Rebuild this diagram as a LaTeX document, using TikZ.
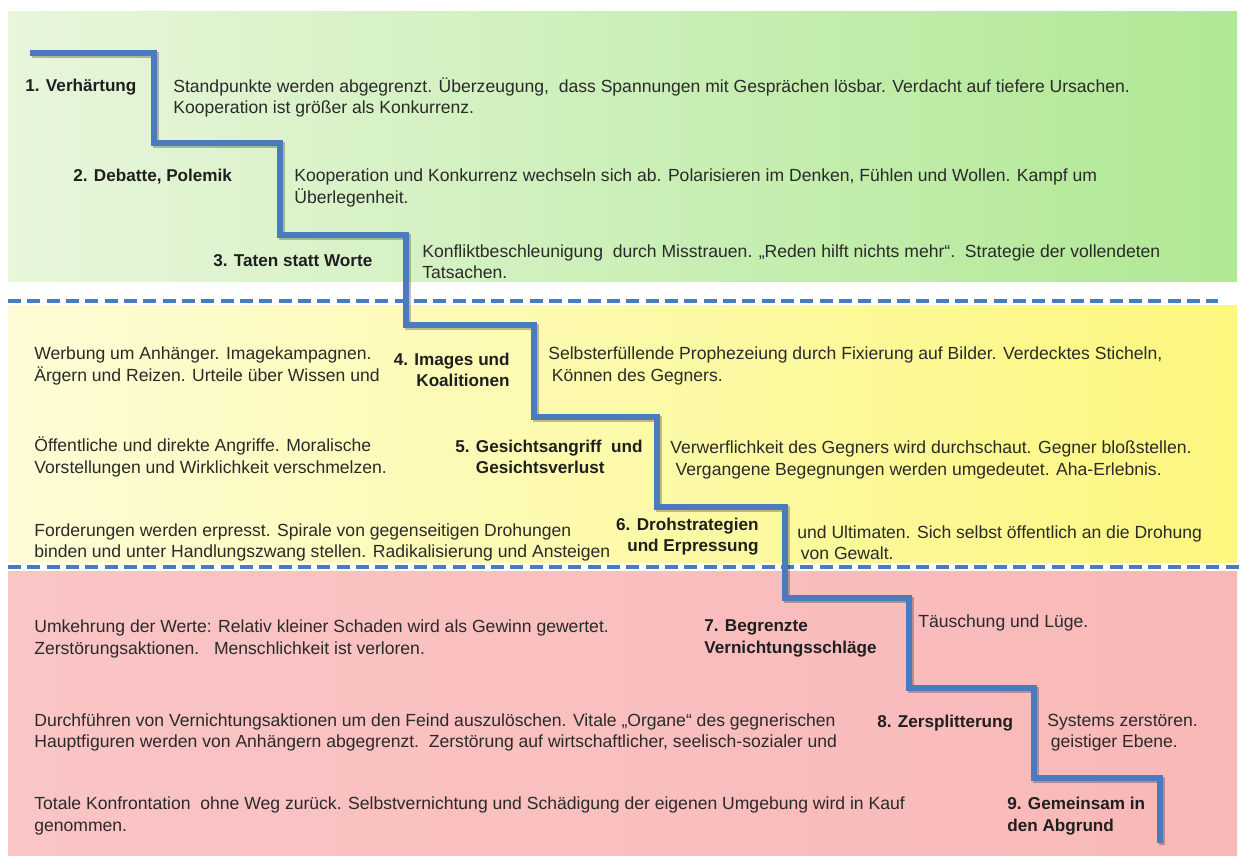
\documentclass[tikz,border=0pt]{standalone}
\usepackage{fontspec}
\setmainfont{Liberation Sans}

\definecolor{grnL}{RGB}{232,246,220}
\definecolor{grnR}{RGB}{176,232,148}
\definecolor{ylwL}{RGB}{253,252,214}
\definecolor{ylwR}{RGB}{252,247,126}
\definecolor{redL}{RGB}{250,197,197}
\definecolor{redM}{RGB}{251,206,206}
\definecolor{redR}{RGB}{249,184,184}
\definecolor{stairblue}{RGB}{74,124,189}
\definecolor{txtgray}{RGB}{42,42,42}

\tikzset{
  desc/.style={font=\fontsize{10}{12.2}\selectfont, text=txtgray, align=left, anchor=west, inner sep=0pt},
  lbl/.style={font=\fontsize{9.75}{12.2}\selectfont\bfseries, text=black!88, align=left, anchor=west, inner sep=0pt},
  stairline/.style={line width=3.1pt, draw=stairblue, line join=miter},
  stairshadow/.style={line width=3.1pt, draw=black, opacity=0.25, line join=miter},
  zoneline/.style={line width=2.3pt, draw=stairblue, dash pattern=on 7.4pt off 3.6pt},
}

\begin{document}
\begin{tikzpicture}[x=0.02cm, y=-0.02cm]
  \useasboundingbox (0,0) rectangle (1242,864);

  % zones
  \shade[left color=grnL, right color=grnR] (8,12) rectangle (1237,282);
  \shade[left color=ylwL, right color=ylwR] (8,306) rectangle (1237,563);
  \shade[left color=redL, middle color=redM, right color=redR] (8,572) rectangle (1237,856);

  % borders between zones
  \draw[zoneline] (8,301) -- (1218,301);
  \draw[zoneline] (8,567) -- (1242,567);

  % corners of the stairs
  \coordinate (k0) at (30,53);
  \coordinate (k1) at (154,143);
  \coordinate (k2) at (280,235);
  \coordinate (k3) at (406,325);
  \coordinate (k4) at (534,417);
  \coordinate (k5) at (657,507);
  \coordinate (k6) at (785,598);
  \coordinate (k7) at (909,688);
  \coordinate (k8) at (1034,778);
  \coordinate (k9) at (1160,843);

  % stairs
  \draw[stairshadow, transform canvas={xshift=1.2pt, yshift=-1.2pt}]
    (k0) -| (k1) -| (k2) -| (k3) -| (k4) -| (k5) -| (k6) -| (k7) -| (k8) -| (k9);
  \draw[stairline]
    (k0) -| (k1) -| (k2) -| (k3) -| (k4) -| (k5) -| (k6) -| (k7) -| (k8) -| (k9);

  % stages
  \node[lbl] (l1) at (25,87) {1. Verhärtung};
  \node[lbl] (l2) at (73,177) {2. Debatte, Polemik};
  \node[lbl] (l3) at (213,261) {3. Taten statt\ Worte};
  \node[lbl, align=right, anchor=east] (l4) at (510,370) {4. Images und\\Koalitionen};
  \node[lbl] (l5) at (455,457) {5. Gesichtsangriff\ \ und\\\phantom{5. }Gesichtsverlust};
  \node[lbl, align=right, anchor=east] (l6) at (759,536.5) {6. Drohstrategien\\und Erpressung};
  \node[lbl] (l7) at (704,638.5) {7. Begrenzte\\Vernichtungsschläge};
  \node[lbl] (l8) at (877,723) {8. Zersplitterung};
  \node[lbl] (l9) at (1007,816) {9. Gemeinsam in\\den Abgrund};

  % texts right of the stairs
  \node[desc] (d1) at (173,97.5) {Standpunkte werden abgegrenzt. Überzeugung,\ \ dass Spannungen mit Gesprächen lösbar. Verdacht auf tiefere Ursachen.\\Kooperation ist größer als Konkurrenz.};
  \node[desc] (d2) at (294,188) {Kooperation und Konkurrenz wechseln sich ab. Polarisieren im Denken, Fühlen und Wollen. Kampf um\\Überlegenheit.};
  \node[desc] (d3) at (422,261.5) {Konfliktbeschleunigung\ \ durch Misstrauen. „Reden hilft nichts mehr“.\ \ Strategie der vollendeten\\Tatsachen.};
  \node[desc] (d4) at (548,366) {Selbsterfüllende Prophezeiung durch Fixierung auf Bilder. Verdecktes Sticheln,\\\hspace{2pt}Können des Gegners.};
  \node[desc] (d5) at (670,460) {Verwerflichkeit des Gegners wird durchschaut. Gegner bloßstellen.\\\hspace{3pt}Vergangene Begegnungen werden umgedeutet. Aha-Erlebnis.};
  \node[desc] (d6) at (797,542.5) {und Ultimaten. Sich selbst öffentlich an die Drohung\\\hspace{2pt}von Gewalt.};
  \node[desc] (d7) at (918,623) {Täuschung und\ Lüge.};
  \node[desc] (d8) at (1047,732.5) {Systems zerstören.\\\hspace{2pt}geistiger Ebene.};

  % texts left of the stairs
  \node[desc] (a4) at (34,366) {Werbung um Anhänger. Imagekampagnen.\\Ärgern und Reizen. Urteile über Wissen und};
  \node[desc] (a5) at (34,457) {Öffentliche und direkte Angriffe. Moralische\\Vorstellungen und Wirklichkeit verschmelzen.};
  \node[desc] (a6) at (34,542.5) {Forderungen werden erpresst. Spirale von gegenseitigen Drohungen\\binden und unter Handlungszwang stellen. Radikalisierung und Ansteigen};
  \node[desc] (a7) at (34,639) {Umkehrung der Werte: Relativ kleiner Schaden wird als Gewinn gewertet.\\Zerstörungsaktionen.\ \ \ Menschlichkeit ist verloren.};
  \node[desc] (a8) at (34,732.5) {Durchführen von Vernichtungsaktionen um den Feind auszulöschen. Vitale „Organe“ des gegnerischen\\Hauptfiguren werden von Anhängern abgegrenzt.\ \ Zerstörung auf wirtschaftlicher, seelisch-sozialer und};
  \node[desc] (a9) at (34,816) {Totale Konfrontation\ \ ohne Weg zurück. Selbstvernichtung und Schädigung der eigenen Umgebung wird in Kauf\\genommen.};
\end{tikzpicture}
\end{document}
